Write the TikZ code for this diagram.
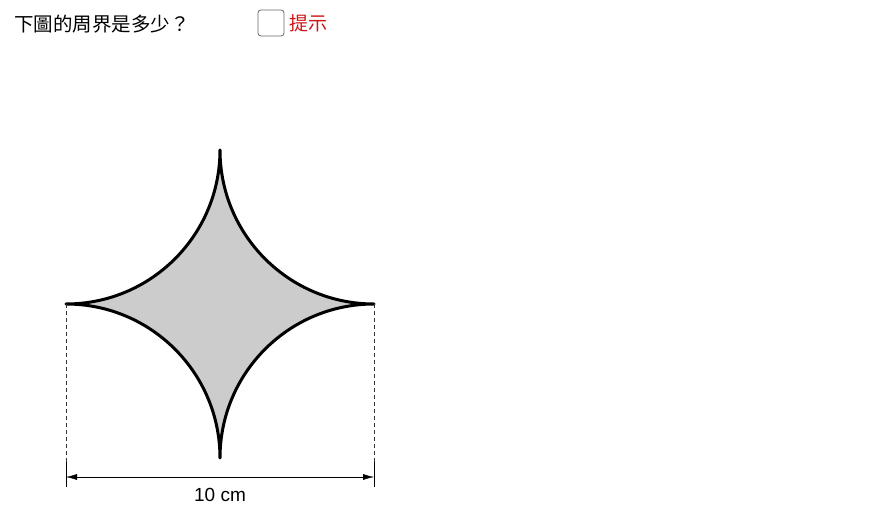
\documentclass[tikz,border=0pt]{standalone}
\usepackage{fontspec}
\setmainfont{Liberation Sans}
\newfontfamily\cjk{Noto Sans CJK TC}
\usetikzlibrary{arrows.meta}
\definecolor{hintred}{RGB}{204,20,20}
\definecolor{starfill}{RGB}{204,204,204}
\tikzset{
  star/.style={line width=3pt, fill=starfill, line join=round},
  guide/.style={dash pattern=on 4pt off 3pt, thin, black!80},
  dimline/.style={{Latex[length=11pt,width=6pt]}-{Latex[length=11pt,width=6pt]}, thin},
}
\begin{document}
\begin{tikzpicture}[x=1pt, y=1pt]
    \useasboundingbox (0,0) rectangle (891,530);

    % question and hint box
    \node[anchor=west, inner sep=0pt] (question) at (14,506) {\cjk\fontsize{19.5}{22}\selectfont 下圖的周界是多少？};
    \node[draw=black!60, thick, rounded corners=3pt, minimum size=26pt, inner sep=0pt] (hintbox) at (271,507) {};
    \node[anchor=west, inner sep=0pt, text=hintred] (hint) at (289,507) {\cjk\fontsize{19}{22}\selectfont 提示};

    % tips of the star
    \coordinate (top) at (220,380);
    \coordinate (left) at (66,226);
    \coordinate (bottom) at (220,72);
    \coordinate (right) at (374,226);

    \draw[star] (top) arc[start angle=0, end angle=-90, radius=154]
        arc[start angle=90, end angle=0, radius=154]
        arc[start angle=180, end angle=90, radius=154]
        arc[start angle=270, end angle=180, radius=154] -- cycle;

    % width
    \coordinate (leftfoot) at (66,43);
    \coordinate (rightfoot) at (374,43);
    \draw[guide] (left) -- (leftfoot);
    \draw[guide] (right) -- (rightfoot);
    \foreach \x in {66,374} \draw (\x,43) -- (\x,68);
    \coordinate (dimL) at (66,53);
    \coordinate (dimR) at (374,53);
    \draw[dimline] (dimL) -- (dimR);
    \node[inner sep=0pt] (width) at (220,35) {\fontsize{19}{21}\selectfont 10 cm};

\end{tikzpicture}
\end{document}
